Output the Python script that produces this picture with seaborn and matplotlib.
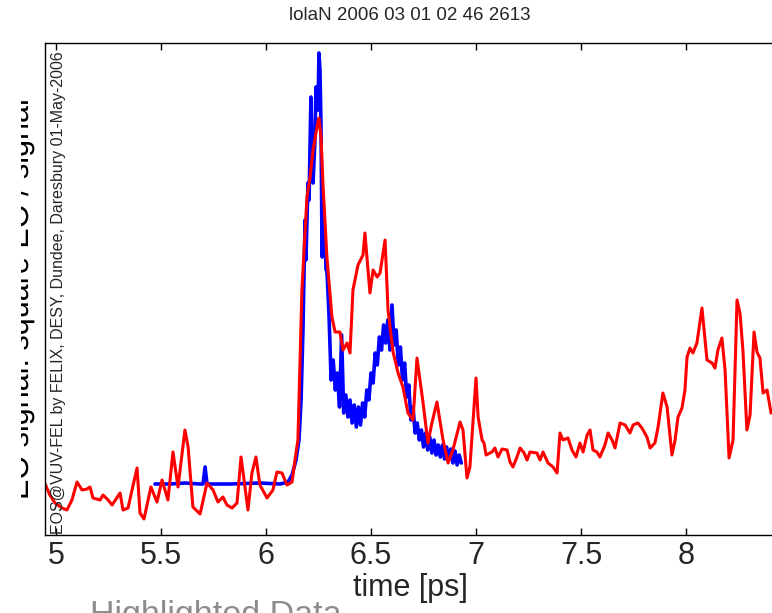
import matplotlib
matplotlib.use("Agg")
import matplotlib.pyplot as plt
import seaborn as sns
import pandas as pd
from matplotlib.transforms import Affine2D
from matplotlib.textpath import TextPath
from matplotlib.font_manager import FontProperties
from matplotlib.patches import PathPatch

# ---------------- data ----------------
title_text = "lolaN 2006 03 01 02 46 2613"
xlabel_text = "time [ps]"
ylabel_text = "EO signal: square EO / signal"
credit_text = "EOS@VUV-FEL by FELIX, DESY, Dundee, Daresbury 01-May-2006"
footer_text = "Highlighted Data"

x_ticks = [5, 5.5, 6, 6.5, 7, 7.5, 8]
x_tick_labels = ["5", "5.5", "6", "6.5", "7", "7.5", "8"]

red_time = [4.948, 4.971, 4.995, 5.029, 5.052, 5.076, 5.100, 5.124, 5.148, 5.162,
            5.176, 5.210, 5.224, 5.248, 5.267, 5.305, 5.319, 5.343, 5.362, 5.386,
            5.400, 5.419, 5.452, 5.481, 5.505, 5.533, 5.557, 5.581, 5.614, 5.629,
            5.652, 5.686, 5.719, 5.748, 5.771, 5.795, 5.814, 5.838, 5.862, 5.881,
            5.900, 5.914, 5.933, 5.952, 5.971, 6.005, 6.033, 6.052, 6.076, 6.100,
            6.124, 6.138, 6.152, 6.171, 6.195, 6.210, 6.224, 6.243, 6.252, 6.262,
            6.271, 6.290, 6.314, 6.329, 6.352, 6.367, 6.386, 6.400, 6.414, 6.438,
            6.462, 6.471, 6.495, 6.510, 6.529, 6.543, 6.567, 6.581, 6.605, 6.629,
            6.652, 6.676, 6.700, 6.719, 6.748, 6.771, 6.790, 6.814, 6.843, 6.867,
            6.890, 6.924, 6.938, 6.957, 6.971, 7.000, 7.010, 7.029, 7.038, 7.048,
            7.076, 7.090, 7.105, 7.124, 7.148, 7.162, 7.176, 7.195, 7.210, 7.229,
            7.243, 7.257, 7.290, 7.305, 7.319, 7.343, 7.367, 7.386, 7.400, 7.414,
            7.438, 7.457, 7.476, 7.495, 7.510, 7.529, 7.543, 7.557, 7.576, 7.590,
            7.614, 7.629, 7.648, 7.662, 7.686, 7.710, 7.733, 7.748, 7.771, 7.790,
            7.814, 7.829, 7.852, 7.867, 7.890, 7.910, 7.933, 7.948, 7.962, 7.981,
            7.995, 8.005, 8.019, 8.033, 8.052, 8.076, 8.100, 8.124, 8.138, 8.152,
            8.171, 8.186, 8.205, 8.224, 8.243, 8.257, 8.271, 8.290, 8.305, 8.324,
            8.338, 8.352, 8.367, 8.386, 8.405]
red_signal = [0.51, 0.40, 0.32, 0.27, 0.25, 0.35, 0.53, 0.45, 0.46, 0.48,
              0.37, 0.35, 0.40, 0.35, 0.30, 0.42, 0.25, 0.27, 0.45, 0.67,
              0.22, 0.16, 0.48, 0.33, 0.55, 0.35, 0.83, 0.48, 1.05, 0.88,
              0.28, 0.21, 0.52, 0.45, 0.33, 0.38, 0.30, 0.27, 0.32, 0.78,
              0.48, 0.25, 0.62, 0.78, 0.50, 0.37, 0.45, 0.63, 0.62, 0.50,
              0.53, 0.75, 0.95, 2.45, 3.38, 3.58, 3.85, 4.08, 4.17, 3.98,
              3.52, 2.78, 2.18, 2.03, 2.03, 1.85, 1.92, 1.82, 2.45, 2.70,
              2.80, 3.02, 2.42, 2.65, 2.58, 2.62, 2.95, 2.25, 1.83, 1.62,
              1.48, 1.22, 1.15, 1.77, 1.32, 0.92, 1.12, 1.33, 0.95, 0.72,
              0.85, 1.13, 1.05, 0.57, 0.68, 1.57, 1.18, 0.95, 0.92, 0.80,
              0.83, 0.87, 0.78, 0.86, 0.85, 0.73, 0.68, 0.78, 0.87, 0.82,
              0.75, 0.83, 0.82, 0.75, 0.83, 0.72, 0.68, 0.62, 1.02, 0.95,
              0.97, 0.85, 0.78, 0.92, 0.83, 1.00, 1.05, 0.85, 0.83, 0.78,
              0.90, 1.02, 0.95, 0.87, 1.12, 1.10, 1.02, 1.10, 1.12, 1.07,
              0.98, 0.87, 0.92, 1.08, 1.42, 1.28, 0.80, 0.95, 1.18, 1.27,
              1.45, 1.78, 1.87, 1.82, 1.92, 2.27, 1.75, 1.72, 1.67, 1.85,
              1.97, 1.65, 0.77, 0.95, 2.35, 2.22, 1.85, 1.05, 1.20, 2.03,
              1.83, 1.77, 1.42, 1.45, 1.22]

blue_time = [5.471, 5.543, 5.614, 5.686, 5.700, 5.710, 5.719, 5.829, 5.971, 6.067,
             6.105, 6.124, 6.143, 6.157, 6.167, 6.176, 6.186, 6.190, 6.200, 6.205,
             6.214, 6.219, 6.224, 6.233, 6.238, 6.248, 6.252, 6.257, 6.262, 6.267,
             6.271, 6.281, 6.286, 6.290,
             6.30, 6.31, 6.32, 6.33, 6.34, 6.35, 6.36, 6.37, 6.38, 6.39,
             6.40, 6.41, 6.42, 6.43, 6.44, 6.45, 6.46, 6.47, 6.48, 6.49,
             6.50, 6.51, 6.52, 6.53, 6.54, 6.55, 6.56, 6.57, 6.58, 6.59,
             6.60, 6.61, 6.62, 6.63, 6.64, 6.65, 6.66, 6.67, 6.68, 6.69,
             6.70, 6.71, 6.72, 6.73, 6.74, 6.75, 6.76, 6.77, 6.78, 6.79,
             6.80, 6.81, 6.82, 6.83, 6.84, 6.85, 6.86, 6.87, 6.88, 6.89,
             6.90, 6.91, 6.92, 6.93]
blue_signal = [0.51, 0.51, 0.52, 0.51, 0.51, 0.68, 0.51, 0.51, 0.52, 0.51,
               0.53, 0.60, 0.75, 0.95, 1.35, 2.05, 3.15, 2.75, 3.52, 3.35,
               4.38, 3.85, 3.52, 3.95, 4.48, 4.25, 4.82, 4.65, 4.08, 2.78,
               3.35, 2.95, 2.65, 2.65,
               2.20, 1.55, 1.75, 1.45, 1.62, 1.28, 2.00, 1.22, 1.40, 1.18,
               1.35, 1.12, 1.30, 1.08, 1.28, 1.10, 1.32, 1.18, 1.45, 1.35,
               1.62, 1.52, 1.82, 1.70, 1.98, 1.85, 2.10, 1.92, 2.15, 1.85,
               2.30, 1.90, 2.05, 1.70, 1.88, 1.55, 1.72, 1.38, 1.50, 1.15,
               1.28, 1.02, 1.12, 0.95, 1.05, 0.88, 1.02, 0.85, 0.98, 0.82,
               0.95, 0.80, 0.90, 0.78, 0.90, 0.76, 0.88, 0.75, 0.86, 0.72,
               0.84, 0.70, 0.80, 0.72]

x_range = (4.9476, 8.4238)
y_range = (0.0, 4.92)

# ---------------- style ----------------
sns.set_style("white")
plt.rcParams["font.family"] = ["Liberation Sans", "DejaVu Sans"]

W, H = 772, 613
DPI = 100
fig = plt.figure(figsize=(W / DPI, H / DPI), dpi=DPI)
ax = fig.add_axes([45 / W, 78 / H, 730 / W, 492 / H])

blue_df = pd.DataFrame({"time": blue_time, "signal": blue_signal})
red_df = pd.DataFrame({"time": red_time, "signal": red_signal})

sns.lineplot(data=blue_df, x="time", y="signal", color="#0000ff", linewidth=2.6,
             estimator=None, sort=False, ax=ax)
sns.lineplot(data=red_df, x="time", y="signal", color="#ff0000", linewidth=2.2,
             estimator=None, sort=False, ax=ax)

ax.set_xlim(*x_range)
ax.set_ylim(*y_range)
ax.set_xticks(x_ticks)
ax.set_xticklabels(x_tick_labels)
ax.set_yticks([])
ax.tick_params(axis="x", direction="in", top=True, bottom=True, length=5,
               width=1.0, color="black", labelsize=22, pad=4)
for sp in ax.spines.values():
    sp.set_visible(True)
    sp.set_color("black")
    sp.set_linewidth(1.0)
ax.set_xlabel(xlabel_text, fontsize=22, labelpad=2)
ax.set_ylabel("")

# title
fig.text(410 / W, 1 - 15 / H, title_text, ha="center", va="center", fontsize=13.5)

# credit inside axes (vertical)
fig.text(66 / W, 1 - 534 / H, credit_text, rotation=90, ha="right", va="bottom",
         fontsize=11.5)

# y label: only its lower part is visible, in a thin strip left of the axes
lab_ax = fig.add_axes([21 / W, 0, 23 / W, 1])
lab_ax.set_xlim(21, 44)
lab_ax.set_ylim(0, H)
lab_ax.axis("off")
fp = FontProperties(family="Liberation Sans", size=22)
tp = TextPath((0, 0), ylabel_text, prop=fp, size=22)
ytrans = (Affine2D().scale(DPI / 72).rotate_deg(90).translate(28, H - 500)
          + lab_ax.transData)
ypatch = PathPatch(tp, transform=ytrans, facecolor="black", edgecolor="none")
lab_ax.add_patch(ypatch)
ypatch.set_clip_on(True)
ypatch.set_clip_path(lab_ax.patch)

# footer text, cut off at the bottom edge
fig.text(90 / W, 1 - 624 / H, footer_text, ha="left", va="baseline", fontsize=24.5,
         color="#8c8c8c")

fig.savefig("out.png", dpi=DPI)
